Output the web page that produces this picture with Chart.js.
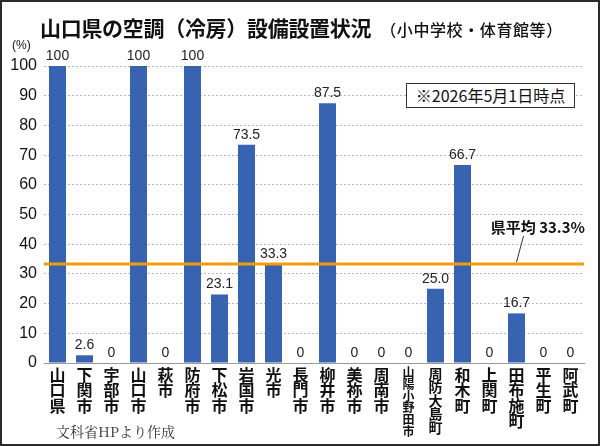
<!DOCTYPE html>
<html lang="ja">
<head>
<meta charset="utf-8">
<script src="https://cdn.jsdelivr.net/npm/chart.js@4"></script>
<style>
  body { margin: 0; background: #fff; overflow: hidden; }
  #wrap { position: relative; width: 600px; height: 446px; background: #fff; }
  #c { position: absolute; left: 0; top: 0; }
  .jp { font-family: "Noto Sans CJK JP", "Noto Sans", sans-serif; color: #111; position: absolute; white-space: nowrap; }
  #title { left: 40px; top: 12px; font-size: 21px; font-weight: 700; letter-spacing: -0.3px; }
  #title small { font-size: 16px; font-weight: 500; margin-left: 9px; letter-spacing: 0.6px; }
  #unit { left: 12px; top: 38px; font-size: 12px; font-family: "Liberation Sans", sans-serif; }
  #datebox { left: 406px; top: 83px; width: 167px; height: 23px; border: 1px solid #333; background: #fff;
             font-size: 16px; font-weight: 400; text-align: center; line-height: 23px; }
  #note { left: 56px; top: 421px; font-size: 14px; color: #333; font-family: "Noto Serif CJK JP", "DejaVu Serif", serif; }
  #frame { position: absolute; left: 0; top: 0; width: 596px; height: 442px; border: 2px solid #2a2a2a; pointer-events: none; }
</style>
</head>
<body>
<div id="wrap">
  <canvas id="c" width="600" height="446"></canvas>
  <div class="jp" id="title">山口県の空調（冷房）設備設置状況<small>（小中学校・体育館等）</small></div>
  <div class="jp" id="unit">(%)</div>
  <div class="jp" id="datebox">※2026年5月1日時点</div>
  <div class="jp" id="note">文科省HPより作成</div>
  <div id="frame"></div>
</div>
<script>
// データ（%）
const categories = ["山口県", "下関市", "宇部市", "山口市", "萩市", "防府市", "下松市", "岩国市", "光市", "長門市",
  "柳井市", "美祢市", "周南市", "山陽小野田市", "周防大島町", "和木町", "上関町", "田布施町", "平生町", "阿武町"];
const values = [100, 2.6, 0, 100, 0, 100, 23.1, 73.5, 33.3, 0, 87.5, 0, 0, 0, 25.0, 66.7, 0, 16.7, 0, 0];
const yTicks = [0, 10, 20, 30, 40, 50, 60, 70, 80, 90, 100];
const avgValue = 33.3;
const avgLabel = "県平均 33.3%";

const barColor = "#3763b1";
const avgColor = "#f29b0c";

// 棒の上の数値
const valueLabels = {
  id: "valueLabels",
  afterDatasetsDraw(chart) {
    const ctx = chart.ctx;
    const meta = chart.getDatasetMeta(0);
    ctx.save();
    ctx.font = '14px "Liberation Sans Narrow", "Liberation Sans", sans-serif';
    ctx.fillStyle = "#222";
    ctx.textAlign = "center";
    ctx.textBaseline = "bottom";
    meta.data.forEach((bar, i) => {
      const v = values[i];
      const txt = (v === 0 || v === 100) ? String(v) : v.toFixed(1);
      ctx.fillText(txt, bar.x, bar.y - 3);
    });
    ctx.restore();
  }
};

// 県平均の線とラベル
const avgLine = {
  id: "avgLine",
  afterDatasetsDraw(chart) {
    const ctx = chart.ctx;
    const area = chart.chartArea;
    const y = chart.scales.y.getPixelForValue(avgValue);
    const xLead = chart.scales.x.getPixelForValue(17);
    ctx.save();
    ctx.strokeStyle = avgColor;
    ctx.lineWidth = 3;
    ctx.beginPath();
    ctx.moveTo(area.left, y);
    ctx.lineTo(area.right, y);
    ctx.stroke();
    // 引き出し線
    ctx.strokeStyle = "#333";
    ctx.lineWidth = 1;
    ctx.beginPath();
    ctx.moveTo(xLead, y - 2);
    ctx.lineTo(xLead + 7, y - 28);
    ctx.stroke();
    ctx.fillStyle = "#111";
    ctx.font = 'bold 15px "Noto Sans CJK JP", sans-serif';
    ctx.textAlign = "right";
    ctx.textBaseline = "middle";
    ctx.fillText(avgLabel, area.right + 1, y - 37);
    ctx.restore();
  }
};

function tickFont(c) {
  const n = categories[c.index] ? categories[c.index].length : 3;
  if (n >= 6) return { family: '"Noto Sans CJK JP", sans-serif', size: 12, weight: "bold", lineHeight: 0.97 };
  if (n === 5) return { family: '"Noto Sans CJK JP", sans-serif', size: 14, weight: "bold", lineHeight: 0.96 };
  return { family: '"Noto Sans CJK JP", sans-serif', size: 16, weight: "bold", lineHeight: 0.97 };
}

new Chart(document.getElementById("c"), {
  type: "bar",
  data: {
    labels: categories.map(s => s.split("")),
    datasets: [{
      data: values,
      backgroundColor: barColor,
      borderWidth: 0,
      categoryPercentage: 1,
      barPercentage: 0.63
    }]
  },
  options: {
    responsive: false,
    animation: false,
    layout: { padding: { left: 2, top: 66, right: 16, bottom: 0 } },
    plugins: {
      legend: { display: false },
      title: { display: false },
      tooltip: { enabled: false }
    },
    scales: {
      x: {
        grid: { display: false },
        border: { display: true, color: "#999", width: 1 },
        ticks: {
          color: "#111",
          autoSkip: false,
          maxRotation: 0,
          minRotation: 0,
          padding: -4,
          font: tickFont
        },
        afterFit(scale) { scale.height = 83; }
      },
      y: {
        min: 0,
        max: 100,
        afterBuildTicks(scale) { scale.ticks = yTicks.map(v => ({ value: v })); },
        grid: { color: "#b8b8b8", lineWidth: 1, drawTicks: false },
        border: { display: false, dash: [2, 2] },
        ticks: {
          color: "#111",
          padding: 7,
          font: { family: '"Liberation Sans", sans-serif', size: 16 }
        },
        afterFit(scale) { scale.width = 42; }
      }
    }
  },
  plugins: [valueLabels, avgLine]
});
</script>
</body>
</html>
